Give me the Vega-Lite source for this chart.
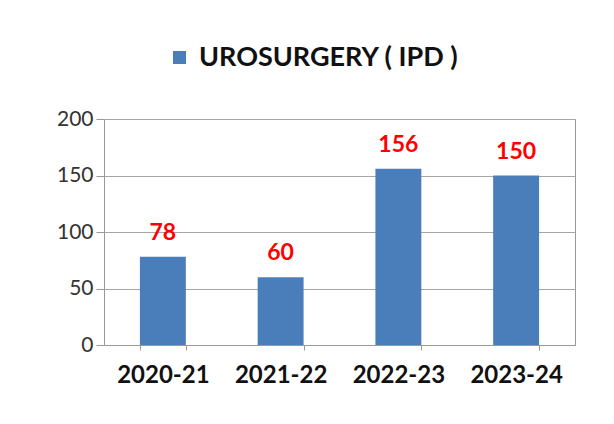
{
  "$schema": "https://vega.github.io/schema/vega-lite/v6.json",
  "width": 471,
  "height": 226,
  "autosize": "none",
  "padding": {"left": 104, "top": 119, "right": 39, "bottom": 79},
  "background": "white",
  "data": {"values": [
    {"year": "2020-21", "value": 78, "series": "UROSURGERY ( IPD )"},
    {"year": "2021-22", "value": 60, "series": "UROSURGERY ( IPD )"},
    {"year": "2022-23", "value": 156, "series": "UROSURGERY ( IPD )"},
    {"year": "2023-24", "value": 150, "series": "UROSURGERY ( IPD )"}
  ]},
  "encoding": {
    "x": {"field": "year", "type": "nominal", "title": null,
      "scale": {"paddingInner": 0.61, "paddingOuter": 0.305},
      "axis": {"labelAngle": 0, "labelFont": "Lato", "labelFontSize": 24, "labelFontWeight": "bold", "labelColor": "#111", "labelPadding": 13, "tickBand": "extent", "tickSize": 5, "tickColor": "#999", "domainColor": "#999", "grid": false}},
    "y": {"field": "value", "type": "quantitative", "title": null,
      "scale": {"domain": [0, 200], "nice": false},
      "axis": {"values": [0, 50, 100, 150, 200], "labelFont": "Lato", "labelFontSize": 21, "labelColor": "#333", "labelPadding": 3, "tickSize": 8, "tickColor": "#999", "domainColor": "#999", "gridColor": "#a6a6a6"}}
  },
  "layer": [
    {"mark": {"type": "bar", "color": "#4A7EBB"},
     "encoding": {"color": {"field": "series", "type": "nominal", "scale": {"range": ["#4A7EBB"]},
       "legend": {"title": null, "orient": "none", "legendX": 62, "legendY": -75, "padding": 0, "symbolType": "square", "symbolSize": 169, "symbolStrokeWidth": 0, "labelOffset": 6, "labelFont": "Lato", "labelFontSize": 27, "labelFontWeight": "bold", "labelColor": "#111", "labelLimit": 500}}}},
    {"mark": {"type": "text", "dy": -12, "font": "Lato", "fontSize": 23, "fontWeight": "bold", "color": "#FF0000", "baseline": "bottom"},
     "encoding": {"text": {"field": "value", "type": "quantitative"}, "y": {"field": "value", "type": "quantitative"}}}
  ],
  "config": {
    "view": {"stroke": "#999"}
  }
}
